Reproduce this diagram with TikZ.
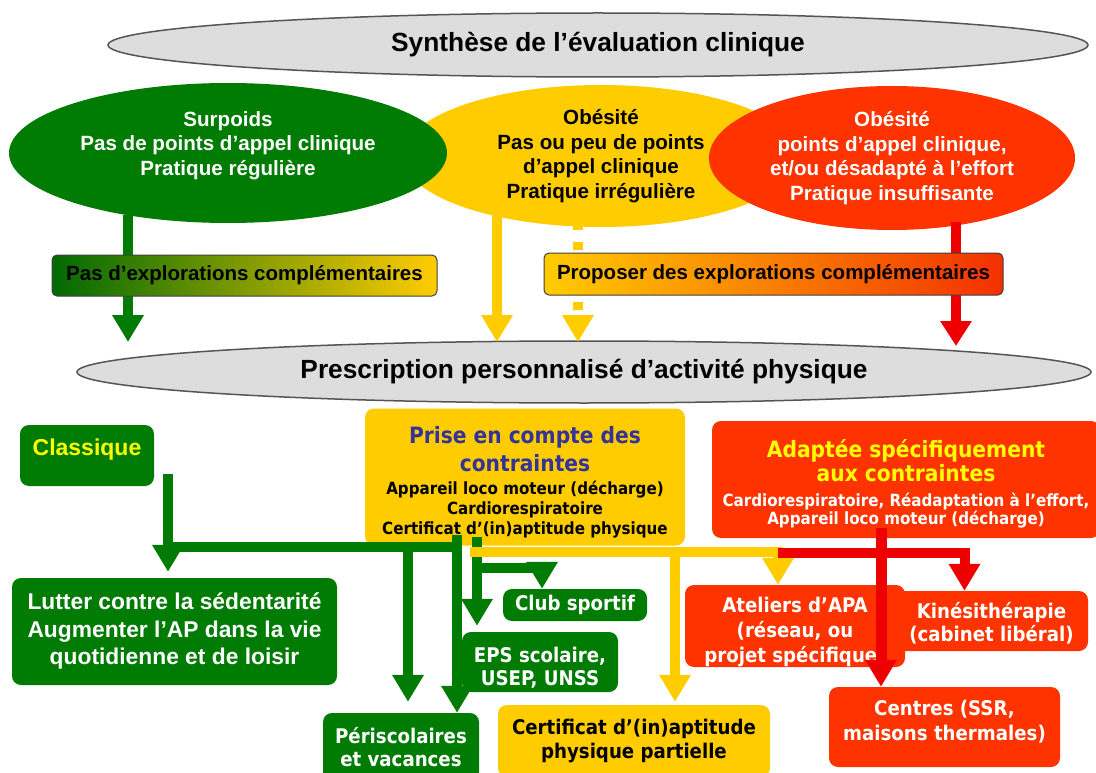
\documentclass[tikz,border=0pt]{standalone}
\usepackage{fontspec}
\setmainfont{Liberation Sans}
\newfontfamily\tahfont{DejaVu Sans Condensed}
\usepackage{tikz}
\usetikzlibrary{shapes.geometric, arrows.meta}
\definecolor{PGreen}{RGB}{0,124,4}
\definecolor{PYellow}{RGB}{255,204,0}
\definecolor{PRed}{RGB}{255,51,0}
\definecolor{PArrowRed}{RGB}{238,0,0}
\definecolor{PGray}{RGB}{221,221,221}
\definecolor{PGrayLine}{RGB}{85,85,85}
\definecolor{PNavy}{RGB}{51,51,153}
\definecolor{PLemon}{RGB}{255,255,0}
\newcommand{\bigln}[2]{{\color{#1}\fontsize{22.5}{26}\selectfont #2}}
\newcommand{\smallln}[2]{{\color{#1}\fontsize{16.8}{19.5}\selectfont #2}}

\begin{document}
\begin{tikzpicture}[x=1pt, y=-1pt,
    oval/.style={ellipse, inner sep=0pt, align=center,
                 font=\bfseries\fontsize{20.6}{24.5}\selectfont},
    grayoval/.style={ellipse, inner sep=0pt, fill=PGray, draw=PGrayLine,
                     line width=1.5pt, font=\bfseries\fontsize{26.3}{30}\selectfont},
    gradbox/.style={rectangle, rounded corners=5pt, inner sep=0pt, draw=black!75,
                    line width=1pt, font=\bfseries\fontsize{20.5}{24}\selectfont},
    box/.style={rectangle, rounded corners=9pt, inner sep=0pt, align=center},
    abox/.style={box, font=\bfseries\fontsize{22.8}{27.5}\selectfont},
    tbox/.style={box, font=\tahfont\bfseries\fontsize{20.2}{23.5}\selectfont},
    arr/.style={line width=10pt, -{Triangle[width=30pt,length=27pt]}},
    garr/.style={arr, draw=PGreen},
    yarr/.style={arr, draw=PYellow},
    rarr/.style={arr, draw=PArrowRed},
    gline/.style={line width=10pt, draw=PGreen}
  ]
  \useasboundingbox (0,0) rectangle (1096,773);

  % evaluation
  \node[grayoval, minimum width=980pt, minimum height=64pt] (synth) at (598,45)
        {Synthèse de l’évaluation clinique};
  \node[oval, fill=PYellow, minimum width=396pt, minimum height=142pt] (obes) at (601,156)
        {Obésité\\Pas ou peu de points\\d’appel clinique\\Pratique irrégulière};
  \node[oval, fill=PGreen, text=white, text depth=19pt,
        minimum width=438pt, minimum height=140pt] (surp) at (228,153)
        {Surpoids\\Pas de points d’appel clinique\\Pratique régulière};
  \node[oval, fill=PRed, text=white, minimum width=366pt, minimum height=144pt] (obesr) at (892,158)
        {Obésité\\points d’appel clinique,\\et/ou désadapté à l’effort\\Pratique insuffisante};

  \node[grayoval, minimum width=1014pt, minimum height=62pt] (presc) at (584,372)
        {Prescription personnalisé d’activité physique};

  \coordinate (ptop) at (0,342);
  \coordinate (ga) at (128,215);
  \coordinate (ya) at (497,215);
  \coordinate (yd) at (578,222);
  \coordinate (ra) at (956,222);

  \draw[garr] (ga) -- (ga |- ptop);
  \draw[yarr] (ya) -- (ya |- ptop);
  \draw[yarr, dash pattern=on 8pt off 12pt] (yd) -- (yd |- ptop);
  \draw[rarr, -{Triangle[width=30pt,length=25pt]}] (ra) -- (956,346);

  \node[gradbox, left color=PGreen!85!black, right color=PYellow,
        minimum width=385pt, minimum height=41pt] (pasexp) at (244.5,275.5)
        {Pas d’explorations complémentaires};
  \node[gradbox, left color=PYellow, right color=PRed!95!black,
        minimum width=459pt, minimum height=42pt] (propexp) at (773.5,274)
        {Proposer des explorations complémentaires};

  % prescription
  \node[box, fill=PGreen, text=PLemon, font=\bfseries\fontsize{23}{26}\selectfont,
        text depth=16pt, minimum width=134pt, minimum height=61pt] (classique) at (87,455.5)
        {Classique};
  \node[abox, fill=PGreen, text=white, minimum width=325pt, minimum height=107pt] (lutter) at (174.5,631.5)
        {Lutter contre la sédentarité\\Augmenter l’AP dans la vie\\quotidienne et de loisir};
  \node[tbox, fill=PYellow, text height=118pt,
        minimum width=320pt, minimum height=137pt] (prise) at (525,477)
        {\bigln{PNavy}{Prise en compte des}\\[4.5pt]
         \bigln{PNavy}{contraintes}\\[-0.5pt]
         \smallln{black}{Appareil loco moteur (décharge)}\\[-3.5pt]
         \smallln{black}{Cardiorespiratoire}\\[-3.5pt]
         \smallln{black}{Certificat d’(in)aptitude physique}};
  \node[tbox, fill=PRed, text height=94pt,
        minimum width=388pt, minimum height=117pt] (adap) at (906,479.5)
        {\bigln{PLemon}{Adaptée spécifiquement}\\[0.5pt]
         \bigln{PLemon}{aux contraintes}\\[1.5pt]
         \smallln{white}{Cardiorespiratoire, Réadaptation à l’effort,}\\[-5.5pt]
         \smallln{white}{Appareil loco moteur (décharge)}};

  \node[tbox, fill=PGreen, text=white, minimum width=156pt, minimum height=68pt] (peri) at (401,747)
        {Périscolaires\\et vacances};
  \node[tbox, fill=PGreen, text=white, minimum width=144pt, minimum height=32pt] (club) at (575,605)
        {Club sportif};
  \node[tbox, fill=PGreen, text=white, text height=50pt,
        minimum width=156pt, minimum height=60pt] (eps) at (540,662)
        {EPS scolaire,\\USEP, UNSS};
  \node[tbox, fill=PYellow, minimum width=272pt, minimum height=72pt] (cert) at (634,741)
        {Certificat d’(in)aptitude\\physique partielle};
  \node[tbox, fill=PRed, text=white, text height=44.5pt,
        minimum width=193pt, minimum height=60pt] (kine) at (991.5,621)
        {Kinésithérapie\\(cabinet libéral)};
  \node[tbox, fill=PRed, text=white, font=\tahfont\bfseries\fontsize{20.2}{25}\selectfont,
        text height=77pt, minimum width=220pt, minimum height=82pt] (atel) at (795,626)
        {Ateliers d’APA\\(réseau, ou\\projet spécifique)};
  \node[tbox, fill=PRed, text=white, font=\tahfont\bfseries\fontsize{20.2}{25}\selectfont,
        text depth=13.6pt, minimum width=231pt, minimum height=80pt] (centres) at (944.5,727)
        {Centres (SSR,\\maisons thermales)};

  \coordinate (cl) at (168,474);
  \coordinate (gb) at (460,547);
  \coordinate (g2) at (408,547);
  \coordinate (g3) at (457,535);
  \coordinate (g4) at (477,537);
  \coordinate (gc) at (477,568);
  \coordinate (yb) at (470,552);
  \coordinate (yc) at (675,552);
  \coordinate (rb) at (778,553);
  \coordinate (rv) at (881,528);

  \draw[garr, shorten >=6pt] (cl) -- (cl |- lutter.north);
  \draw[gline] (cl |- gb) -- (gb);
  \draw[garr, shorten >=11pt] (g2) -- (g2 |- peri.north);
  \draw[garr] (g3) -- (g3 |- peri.north);
  \draw[garr, shorten >=6pt] (g4) -- (g4 |- eps.north);
  \draw[garr] (gc) -| ([xshift=-33pt]club.north);

  \draw[yarr] (yb) -| ([xshift=-17pt]atel.north);
  \draw[yarr, shorten >=3pt] (yc) -- (yc |- cert.north);

  \draw[rarr] (rb) -| ([xshift=-27pt]kine.north);
  \draw[rarr, line width=11pt] (rv) -- (rv |- centres.north);
\end{tikzpicture}
\end{document}
